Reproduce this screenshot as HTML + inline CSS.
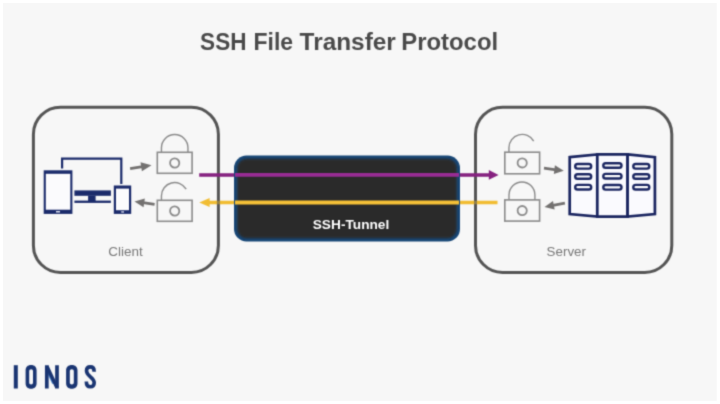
<!DOCTYPE html>
<html>
<head>
<meta charset="utf-8">
<title>SSH File Transfer Protocol</title>
<style>
html,body{margin:0;padding:0;background:#ffffff;}
body{width:720px;height:404px;overflow:hidden;position:relative;font-family:"Liberation Sans",sans-serif;}
svg{position:absolute;left:0;top:0;display:block;}
text{font-family:"Liberation Sans",sans-serif;}
</style>
</head>
<body>
<svg width="720" height="404" viewBox="0 0 720 404">
  <!-- background -->
  <rect x="0" y="0" width="720" height="404" fill="#ffffff"/>
  <rect x="3" y="3" width="713.7" height="397.8" fill="#f7f7f7"/>
  <filter id="soft" x="0" y="0" width="720" height="404" filterUnits="userSpaceOnUse" color-interpolation-filters="sRGB"><feConvolveMatrix order="3" kernelMatrix="0.0277 0.111 0.0277 0.111 0.445 0.111 0.0277 0.111 0.0277" divisor="1" edgeMode="none" preserveAlpha="false"/></filter>
  <g filter="url(#soft)">

  <!-- title -->
  <g font-size="23" font-weight="bold" fill="#4a4a4a">
    <text x="200.1" y="50.3" textLength="46.4" lengthAdjust="spacingAndGlyphs">SSH</text>
    <text x="253.5" y="50.3" textLength="39.6" lengthAdjust="spacingAndGlyphs">File</text>
    <text x="299.6" y="50.3" textLength="96.2" lengthAdjust="spacingAndGlyphs">Transfer</text>
    <text x="401.3" y="50.3" textLength="96.8" lengthAdjust="spacingAndGlyphs">Protocol</text>
  </g>

  <!-- yellow outside (under borders) -->
  <line x1="207" y1="202.5" x2="497.5" y2="202.5" stroke="#f1bd33" stroke-width="3.6"/>
  <polygon points="209.6,197.9 199.3,202.5 209.6,207.1" fill="#f1bd33"/>

  <!-- client box -->
  <rect x="33.4" y="107.2" width="185" height="165.2" rx="27" ry="27" fill="none" stroke="#555555" stroke-width="3"/>
  <!-- server box -->
  <rect x="475.5" y="107.2" width="196.3" height="165.2" rx="27" ry="27" fill="none" stroke="#555555" stroke-width="3"/>

  <!-- yellow faintly over borders -->
  <path d="M215 202.5 H222 M472 202.5 H479" stroke="#f1bd33" stroke-width="3.6" opacity="0.4" fill="none"/>
  <!-- purple outside (over borders) -->
  <line x1="199.2" y1="174.9" x2="490" y2="174.9" stroke="#85207f" stroke-width="3.5"/>
  <polygon points="488.8,170 498.6,174.9 488.8,179.8" fill="#85207f"/>

  <!-- tunnel -->
  <defs>
    <filter id="b1" x="-5%" y="-10%" width="110%" height="120%"><feGaussianBlur stdDeviation="1.3"/></filter>
    <clipPath id="tc"><rect x="234" y="155.5" width="226" height="86" rx="12.5" ry="12.5"/></clipPath>
  </defs>
  <rect x="234" y="155.5" width="226" height="86" rx="12.5" ry="12.5" fill="#184878"/>
  <g clip-path="url(#tc)"><rect x="237.2" y="158.7" width="219.6" height="79.6" rx="9.5" ry="9.5" fill="#2a2a2a" filter="url(#b1)"/></g>
  <line x1="235" y1="174.9" x2="459" y2="174.9" stroke="#982c94" stroke-width="3.9"/>
  <line x1="235" y1="202.5" x2="459" y2="202.5" stroke="#f4c037" stroke-width="3.9"/>

  <text x="351" y="229.2" text-anchor="middle" font-size="13" font-weight="bold" fill="#ffffff" textLength="76.5" lengthAdjust="spacingAndGlyphs">SSH-Tunnel</text>

  <!-- labels -->
  <text x="125.5" y="256.2" text-anchor="middle" font-size="13.6" fill="#787878" textLength="34.5" lengthAdjust="spacingAndGlyphs">Client</text>
  <text x="566.3" y="256.2" text-anchor="middle" font-size="13.6" fill="#787878" textLength="39.4" lengthAdjust="spacingAndGlyphs">Server</text>

  <!-- client devices -->
  <g id="devices" fill="none" stroke="#1b2b6b">
    <!-- monitor -->
    <path d="M62.1 168.5 V158.6 H121.3 V184" stroke-width="2.2"/>
    <!-- monitor bottom bezel, neck, base -->
    <rect x="74.4" y="190.4" width="36.5" height="5.4" fill="#1b2b6b" stroke="none"/>
    <rect x="88.1" y="195.5" width="7.5" height="5.5" fill="#1b2b6b" stroke="none"/>
    <rect x="74.4" y="200.6" width="36.5" height="2.3" fill="#1b2b6b" stroke="none"/>
    <!-- tablet -->
    <rect x="43.7" y="170.3" width="28.7" height="43.6" fill="#1b2b6b" stroke="none"/>
    <rect x="45.8" y="173.8" width="24.5" height="35.9" fill="#fbfbfd" stroke="none"/>
    <rect x="56" y="211" width="4" height="1.5" fill="#dfe3f2" stroke="none"/>
    <!-- phone -->
    <rect x="113.8" y="185.5" width="17.4" height="28.4" fill="#1b2b6b" stroke="none"/>
    <rect x="116" y="188.6" width="13" height="21.6" fill="#fbfbfd" stroke="none"/>
    <rect x="121.2" y="211.3" width="2.8" height="1.3" fill="#dfe3f2" stroke="none"/>
  </g>

  <!-- client locks -->
  <g fill="none" stroke="#8b8b8b" stroke-width="1.6">
    <g transform="translate(174.7 152.3)">
      <rect x="-17.4" y="0" width="34.8" height="21"/>
      <path d="M-13.25 0 V-4.5 A13.25 13.25 0 0 1 13.25 -4.5 V0" stroke-width="1.4"/>
      <circle cx="0" cy="10.7" r="4.6" stroke-width="1.8"/>
    </g>
    <g transform="translate(174.7 200.3)">
      <rect x="-17.4" y="0" width="34.8" height="21"/>
      <path d="M-13.25 0 V-4.5 A13.25 13.25 0 0 1 11.5 -11.1" stroke-width="1.4"/>
      <circle cx="0" cy="10.7" r="4.6" stroke-width="1.8"/>
    </g>
  </g>
  <!-- client arrows -->
  <g stroke="#737170" fill="#737170" stroke-width="2.8">
    <line x1="130.1" y1="168.7" x2="142.5" y2="166.6"/>
    <polygon points="151.5,165.2 140.5,162.2 141.9,171.3" stroke="none"/>
    <line x1="154.6" y1="204.4" x2="143" y2="202.7"/>
    <polygon points="134.5,201.4 144.85,198.5 143.55,207.2" stroke="none"/>
  </g>

  <!-- server locks -->
  <g fill="none" stroke="#8b8b8b" stroke-width="1.6">
    <g transform="translate(522.2 152.2)">
      <rect x="-17.4" y="0" width="34.8" height="21.6"/>
      <path d="M-13.25 0 V-4.5 A13.25 13.25 0 0 1 11.5 -11.1" stroke-width="1.4"/>
      <circle cx="0" cy="10.7" r="4.6" stroke-width="1.8"/>
    </g>
    <g transform="translate(522.2 199.9)">
      <rect x="-17.4" y="0" width="34.8" height="21.2"/>
      <path d="M-13.2 0 V-5 A12.95 12.95 0 0 1 12.7 -5 V0" stroke-width="1.4"/>
      <circle cx="0" cy="10.7" r="4.6" stroke-width="1.8"/>
    </g>
  </g>
  <!-- server arrows -->
  <g stroke="#737170" fill="#737170" stroke-width="2.8">
    <line x1="544" y1="168.2" x2="556" y2="169.8"/>
    <polygon points="563.75,170.8 554.9,165.2 553.8,173.9" stroke="none"/>
    <line x1="564.9" y1="203.2" x2="553" y2="205.4"/>
    <polygon points="544.5,207 553,200.9 554.65,209.6" stroke="none"/>
  </g>

  <!-- server rack -->
  <g fill="#fafafe" stroke="#1a2560" stroke-width="2.7" stroke-linejoin="miter">
    <path d="M569.7 157.2 L597.3 154.4 V216.6 L569.7 214.1 Z"/>
    <path d="M597.3 154.4 H627.6 V216.6 H597.3 Z"/>
    <path d="M627.6 154.4 L654.9 157.2 V214.1 L627.6 216.6 Z"/>
  </g>
  <g fill="#ffffff" stroke="#1a2560" stroke-width="2.4">
    <rect x="575.2" y="164" width="16" height="4.6" rx="2.3"/>
    <rect x="575.2" y="174.2" width="16" height="4.6" rx="2.3"/>
    <rect x="575.2" y="184.9" width="16" height="4.6" rx="2.3"/>
    <rect x="603.3" y="163.2" width="18.2" height="4.6" rx="2.3"/>
    <rect x="603.3" y="173.9" width="18.2" height="4.6" rx="2.3"/>
    <rect x="603.3" y="185" width="18.2" height="4.6" rx="2.3"/>
    <rect x="633.3" y="164" width="16" height="4.6" rx="2.3"/>
    <rect x="633.3" y="174.2" width="16" height="4.6" rx="2.3"/>
    <rect x="633.3" y="184.9" width="16" height="4.6" rx="2.3"/>
  </g>

  <!-- IONOS logo -->
  <g fill="#1a3572" stroke="none">
    <rect x="13.8" y="365.2" width="4" height="23.3"/>
    <path fill-rule="evenodd" d="M31.1 365.1 C34.6 365.1 36.6 367.3 36.6 370.6 V383.2 C36.6 386.5 34.6 388.7 31.1 388.7 C27.6 388.7 25.6 386.5 25.6 383.2 V370.6 C25.6 367.3 27.6 365.1 31.1 365.1 Z M31.1 369.3 C29.9 369.3 29.2 370 29.2 371.3 V382.5 C29.2 383.8 29.9 384.5 31.1 384.5 C32.3 384.5 33 383.8 33 382.5 V371.3 C33 370 32.3 369.3 31.1 369.3 Z"/>
    <path fill-rule="evenodd" d="M71.8 365.1 C75.4 365.1 77.5 367.3 77.5 370.6 V383.2 C77.5 386.5 75.4 388.7 71.8 388.7 C68.2 388.7 66.1 386.5 66.1 383.2 V370.6 C66.1 367.3 68.2 365.1 71.8 365.1 Z M71.8 369.3 C70.5 369.3 69.8 370 69.8 371.3 V382.5 C69.8 383.8 70.5 384.5 71.8 384.5 C73.1 384.5 73.8 383.8 73.8 382.5 V371.3 C73.8 370 73.1 369.3 71.8 369.3 Z"/>
  </g>
  <g fill="none" stroke="#1a3572" stroke-width="3.7">
    <path d="M48.2 372.5 L53.4 383.6" stroke="#4a86cc" stroke-width="2.4"/>
    <path d="M46.8 388.5 V365.2 M57 365.2 V388.5"/>
    <path d="M46.9 366.2 L56.9 387.5" stroke-width="3.5"/>
    <path d="M94.1 371.8 V371 C94.1 368.2 92.6 366.9 90.3 366.9 C88 366.9 86.5 368.2 86.5 370.8 C86.5 376.4 94.2 377.4 94.2 382.8 C94.2 385.4 92.7 386.8 90.3 386.8 C87.9 386.8 86.4 385.4 86.4 382.6 V381.6" stroke-width="3.6"/>
  </g>
  </g>
</svg>
</body>
</html>
